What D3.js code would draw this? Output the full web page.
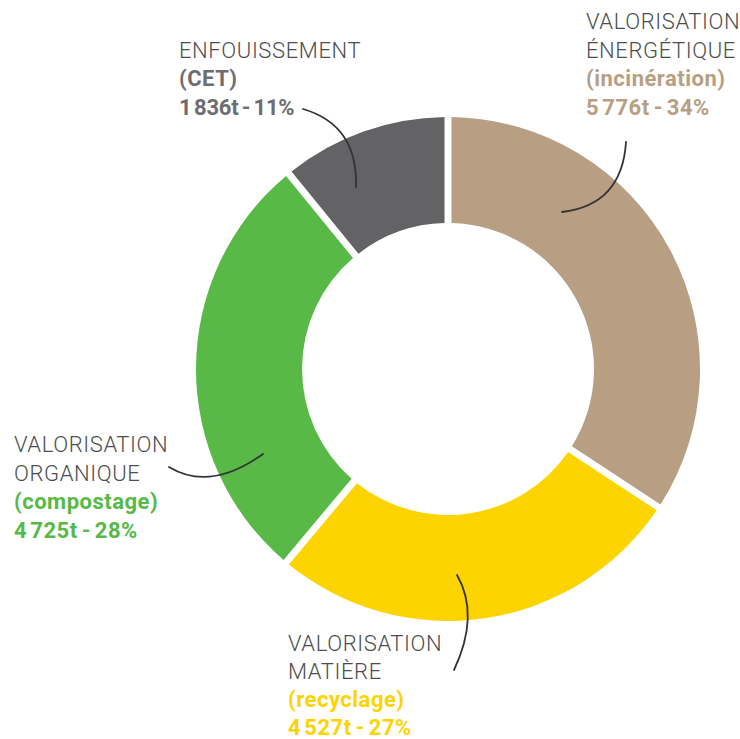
<!DOCTYPE html>
<html>
<head>
<meta charset="utf-8">
<script src="https://cdn.jsdelivr.net/npm/d3@7"></script>
<style>
  html, body { margin: 0; padding: 0; background: #fff; }
  svg { display: block; }
  .title { font-family: Roboto, "Noto Sans", sans-serif; font-weight: 300; font-size: 22px; letter-spacing: 0.6px; fill: #4d4d4f; }
  .bold { font-family: Roboto, "Noto Sans", sans-serif; font-weight: 700; font-size: 22px; letter-spacing: 0.5px; }
</style>
</head>
<body>
<div id="chart"></div>
<script>
// données (ordre horaire depuis midi)
const categories = ["energetique", "matiere", "organique", "enfouissement"];
const titles = [["VALORISATION", "ÉNERGÉTIQUE"], ["VALORISATION", "MATIÈRE"], ["VALORISATION", "ORGANIQUE"], ["ENFOUISSEMENT"]];
const methods = ["(incinération)", "(recyclage)", "(compostage)", "(CET)"];
const tonnes = [5776, 4527, 4725, 1836];
const percents = [34, 27, 28, 11];
const colors = ["#b89e82", "#fdd300", "#58b947", "#636365"];
const labelColors = ["#b89e82", "#fdd300", "#58b947", "#6d6d6f"];

const width = 740, height = 739;
const cx = 448, cy = 369;
const outerR = 252, innerR = 146;
const GAP = 7;

// positions des étiquettes et des traits de rappel
const labelPos = {
  energetique:   { x: 586, y: 29, lh: 29, ls: 0.5 },
  matiere:       { x: 288, y: 651, lh: 28.3, ls: 0.5 },
  organique:     { x: 14,  y: 452, lh: 29, ls: 0.5 },
  enfouissement: { x: 179, y: 58, lh: 29, ls: -0.2 }
};
const leaders = {
  energetique:   [[626, 142], [622, 205], [562, 212]],
  matiere:       [[457, 575], [480, 615], [454, 670]],
  organique:     [[169, 467], [210, 492], [263, 454]],
  enfouissement: [[303, 109], [358, 125], [356, 187]]
};

const fmt = d3.formatLocale({ decimal: ",", thousands: "\u202f", grouping: [3], currency: ["", "€"] }).format(",d");

const data = categories.map((c, i) => ({
  key: c, title: titles[i], method: methods[i], t: tonnes[i], pct: percents[i],
  color: colors[i], labelColor: labelColors[i]
}));

const svg = d3.select("#chart").append("svg")
  .attr("width", width)
  .attr("height", height);

const pie = d3.pie().sort(null).value(d => d.t);
const arc = d3.arc()
  .innerRadius(innerR)
  .outerRadius(outerR)
  .padRadius(outerR)
  .padAngle(GAP / outerR);

svg.append("g")
  .attr("transform", `translate(${cx},${cy})`)
  .selectAll("path")
  .data(pie(data))
  .join("path")
  .attr("d", arc)
  .attr("fill", d => d.data.color);

// traits de rappel
const curve = p => `M${p[0][0]},${p[0][1]} Q${p[1][0]},${p[1][1]} ${p[2][0]},${p[2][1]}`;
svg.append("g")
  .selectAll("path")
  .data(data)
  .join("path")
  .attr("d", d => curve(leaders[d.key]))
  .attr("fill", "none")
  .attr("stroke", "#333335")
  .attr("stroke-width", 1.8)
  .attr("stroke-linecap", "round");

// étiquettes
const labels = svg.append("g")
  .selectAll("g")
  .data(data)
  .join("g")
  .attr("transform", d => `translate(${labelPos[d.key].x},${labelPos[d.key].y})`);

labels.each(function (d) {
  const g = d3.select(this);
  const lp = labelPos[d.key];
  d.title.forEach((line, i) => {
    g.append("text").attr("class", "title")
      .attr("y", i * lp.lh)
      .text(line);
  });
  const n = d.title.length;
  g.append("text").attr("class", "bold")
    .attr("y", n * lp.lh - 1)
    .attr("fill", d.labelColor)
    .text(d.method);
  g.append("text").attr("class", "bold")
    .attr("y", (n + 1) * lp.lh - 1)
    .attr("fill", d.labelColor)
    .attr("word-spacing", "-2px")
    .style("letter-spacing", lp.ls + "px")
    .text(`${fmt(d.t)}t - ${d.pct}%`);
});
</script>
</body>
</html>
